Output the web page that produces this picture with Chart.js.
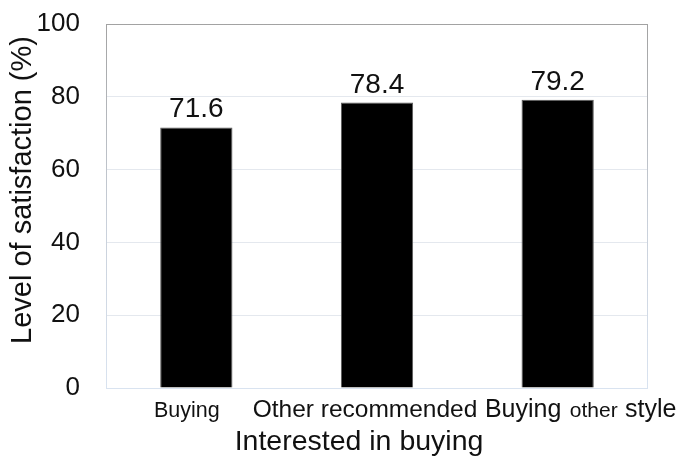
<!DOCTYPE html>
<html>
<head>
<meta charset="utf-8">
<script src="https://cdn.jsdelivr.net/npm/chart.js@4.4.0/dist/chart.umd.min.js"></script>
<style>
  html, body { margin: 0; padding: 0; background: #fff; }
  #wrap { width: 680px; height: 456px; position: relative; }
</style>
</head>
<body>
<div id="wrap"><canvas id="c"></canvas></div>
<script>
// Satisfaction by purchase interest
const categories = ['Buying', 'Other recommended', 'Buying other style'];
const satisfaction = [71.6, 78.4, 79.2];
const yTicks = [0, 20, 40, 60, 80, 100];
const xTitle = 'Interested in buying';
const yTitle = 'Level of satisfaction (%)';

const FAMILY = '"Liberation Sans", Arial, sans-serif';
const INK = '#111111';

// word-by-word font sizes for the category labels, and a horizontal nudge for each
const labelWordSizes = [[21.5], [24.5, 24.5], [25, 21, 25]];
const labelShift = [-9.5, -12, 23];

const textPlugin = {
  id: 'chartText',
  beforeDatasetsDraw(chart) {
    const { ctx, chartArea: a } = chart;
    ctx.save();
    const g = ctx.createLinearGradient(0, a.top, 0, a.bottom);
    g.addColorStop(0, '#a2a2a2');
    g.addColorStop(0.55, '#c9d0da');
    g.addColorStop(1, '#d9e3f0');
    ctx.strokeStyle = g;
    ctx.lineWidth = 1;
    ctx.strokeRect(Math.round(a.left) + 0.5, Math.round(a.top) + 0.5,
                   Math.round(a.right - a.left) - 1, Math.round(a.bottom - a.top));
    ctx.restore();
  },
  afterDraw(chart) {
    const { ctx, chartArea: a } = chart;
    const xs = chart.scales.x;
    ctx.save();
    ctx.fillStyle = INK;

    // value labels above each bar
    const meta = chart.getDatasetMeta(0);
    ctx.font = '28px ' + FAMILY;
    ctx.textAlign = 'center';
    ctx.textBaseline = 'alphabetic';
    meta.data.forEach((bar, i) => {
      ctx.fillText(satisfaction[i].toFixed(1), bar.x, bar.y - 10);
    });

    // category labels
    ctx.textAlign = 'left';
    categories.forEach((label, i) => {
      const words = label.split(' ');
      const sizes = labelWordSizes[i];
      const widths = words.map((w, k) => {
        ctx.font = sizes[k] + 'px ' + FAMILY;
        return ctx.measureText(w).width;
      });
      const spaces = words.slice(1).map((w, k) => {
        ctx.font = sizes[k] + 'px ' + FAMILY;
        return ctx.measureText(' ').width + (sizes[k] === sizes[k + 1] ? 0 : 1.5);
      });
      const total = widths.reduce((s, v) => s + v, 0) + spaces.reduce((s, v) => s + v, 0);
      let x = xs.getPixelForValue(i) + labelShift[i] - total / 2;
      words.forEach((w, k) => {
        ctx.font = sizes[k] + 'px ' + FAMILY;
        ctx.fillText(w, x, a.bottom + 29);
        x += widths[k] + (k < spaces.length ? spaces[k] : 0);
      });
    });

    // x-axis title
    ctx.font = '28.5px ' + FAMILY;
    ctx.textAlign = 'center';
    ctx.fillText(xTitle, (a.left + a.right) / 2 - 18, a.bottom + 62);

    // y-axis title
    ctx.translate(31, (a.top + a.bottom) / 2 - 16);
    ctx.rotate(-Math.PI / 2);
    ctx.font = '29px ' + FAMILY;
    ctx.fillText(yTitle, 0, 0);
    ctx.restore();
  }
};

new Chart(document.getElementById('c'), {
  type: 'bar',
  data: {
    labels: categories,
    datasets: [{
      data: satisfaction,
      backgroundColor: '#000000',
      borderColor: '#5a5a5a',
      borderWidth: 1,
      barPercentage: 0.4,
      categoryPercentage: 1.0
    }]
  },
  options: {
    responsive: true,
    maintainAspectRatio: false,
    animation: false,
    layout: { padding: { top: 24, right: 32, left: 0, bottom: 0 } },
    plugins: { legend: { display: false }, tooltip: { enabled: false } },
    scales: {
      x: {
        grid: { display: false },
        border: { display: false },
        ticks: { display: false },
        afterFit(s) { s.height = 68; s.paddingLeft = 0; s.paddingRight = 0; }
      },
      y: {
        min: 0,
        max: 100,
        afterBuildTicks(s) { s.ticks = yTicks.map(v => ({ value: v })); },
        ticks: {
          color: INK,
          padding: 26,
          font: { family: FAMILY, size: 26 }
        },
        grid: { color: '#e4e8ee', lineWidth: 1, drawTicks: false },
        border: { display: false },
        afterFit(s) { s.width = 106; s.paddingTop = 0; s.paddingBottom = 0; }
      }
    }
  },
  plugins: [textPlugin]
});
</script>
</body>
</html>
